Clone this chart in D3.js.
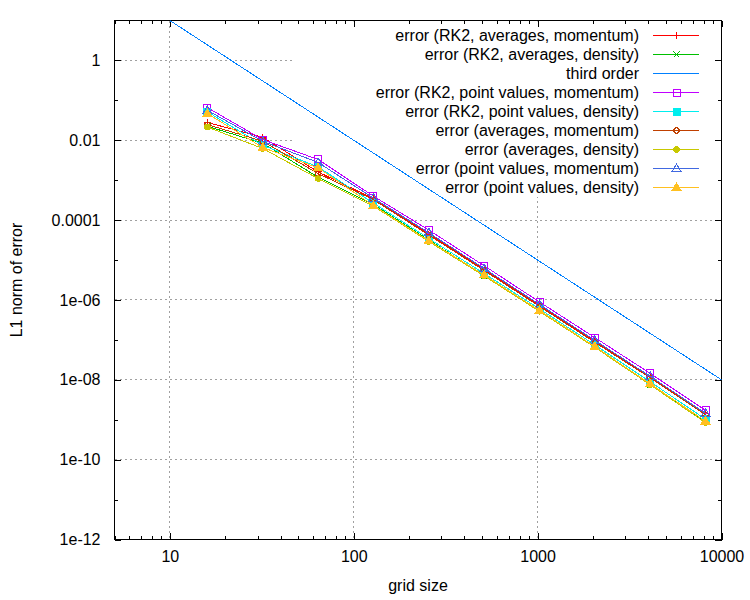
<!DOCTYPE html>
<html>
<head>
<meta charset="utf-8">
<script src="https://cdn.jsdelivr.net/npm/d3@7"></script>
<style>
  body { margin: 0; background: #fff; }
  text { font-family: "Liberation Sans", Arial, sans-serif; font-size: 16px; fill: #000; }
</style>
</head>
<body>
<div id="content"></div>
<script>
// grid sizes used in every run
var gridSizes = [16, 32, 64, 128, 256, 512, 1024, 2048, 4096, 8192];

// L1 errors
var errRK2AvgMom  = [0.0278, 0.0119, 0.00161, 3.45e-4, 4.47e-5, 5.79e-6, 7.29e-7, 9.18e-8, 1.19e-8, 1.41e-9];
var errRK2AvgDens = [0.0224, 0.00842, 0.00119, 2.44e-4, 3.17e-5, 4.1e-6, 5.31e-7, 6.69e-8, 7.73e-9, 8.67e-10];
var errRK2PvMom   = [0.0657, 0.0104, 0.0033, 3.98e-4, 5.63e-5, 7.2e-6, 8.9e-7, 1.14e-7, 1.45e-8, 1.71e-9];
var errRK2PvDens  = [0.0516, 0.0075, 0.00215, 2.66e-4, 3.45e-5, 4.6e-6, 5.96e-7, 7.5e-8, 8.91e-9, 1.03e-9];
var errAvgMom     = [0.0247, 0.00944, 0.00147, 3.25e-4, 4.22e-5, 5.47e-6, 6.88e-7, 8.67e-8, 1.12e-8, 1.34e-9];
var errAvgDens    = [0.0215, 0.0062, 0.0011, 2.24e-4, 2.9e-5, 3.99e-6, 5.16e-7, 6.5e-8, 7.5e-9, 8.42e-10];
var errPvMom      = [0.0563, 0.00944, 0.00278, 3.55e-4, 4.82e-5, 6.14e-6, 7.73e-7, 9.72e-8, 1.22e-8, 1.45e-9];
var errPvDens     = [0.0465, 0.00657, 0.00204, 2.31e-4, 3.04e-5, 4.22e-6, 5.47e-7, 6.8e-8, 7.95e-9, 9.18e-10];

// reference slope line
var thirdOrderN   = [10, 10000];
var thirdOrderErr = [10, 1e-8];

var seriesLabels = [
  "error (RK2, averages, momentum)",
  "error (RK2, averages, density)",
  "third order",
  "error (RK2, point values, momentum)",
  "error (RK2, point values, density)",
  "error (averages, momentum)",
  "error (averages, density)",
  "error (point values, momentum)",
  "error (point values, density)"
];

var xTickValues = [10, 100, 1000, 10000];
var xTickLabels = ["10", "100", "1000", "10000"];
var yTickValues = [1e-12, 1e-10, 1e-8, 1e-6, 1e-4, 1e-2, 1];
var yTickLabels = ["1e-12", "1e-10", "1e-08", "1e-06", "0.0001", "0.01", "1"];

var colors  = ["#ff0000", "#00c000", "#0080ff", "#c000ff", "#00eeee", "#c04000", "#c8c800", "#4169e1", "#ffc020"];
var markers = ["plus", "cross", null, "square", "squareFilled", "circle", "circleFilled", "triangle", "triangleFilled"];

var seriesValues = [errRK2AvgMom, errRK2AvgDens, null, errRK2PvMom, errRK2PvDens, errAvgMom, errAvgDens, errPvMom, errPvDens];

var width = 750, height = 600;
var pLeft = 114.5, pRight = 721.5, pTop = 20.5, pBottom = 539.5;

var svg = d3.select("#content")
  .append("svg")
    .attr("width", width)
    .attr("height", height);

var x = d3.scaleLog().domain([5, 10000]).range([pLeft, pRight]);
var y = d3.scaleLog().domain([1e-12, 10]).range([pBottom, pTop]);

// minor tick positions
var xMinor = [];
[1, 10, 100, 1000].forEach(function(d){
  for (var k = 2; k <= 9; k++) { if (d*k >= 5 && d*k < 10000) xMinor.push(d*k); }
});
var yMinor = [1e-11, 1e-9, 1e-7, 1e-5, 1e-3, 0.1];

// grid
var grid = svg.append("g").attr("class", "grid").attr("shape-rendering", "crispEdges");
xTickValues.filter(function(d){ return d < 10000; }).forEach(function(d){
  grid.append("line")
    .attr("x1", x(d)).attr("x2", x(d))
    .attr("y1", pTop).attr("y2", pBottom)
    .attr("stroke", "#a0a0a0").attr("stroke-dasharray", "2,3");
});
yTickValues.filter(function(d){ return d > 1e-12; }).forEach(function(d){
  grid.append("line")
    .attr("x1", pLeft).attr("x2", pRight)
    .attr("y1", y(d)).attr("y2", y(d))
    .attr("stroke", "#a0a0a0").attr("stroke-dasharray", "2,3");
});

// opaque key background covers the grid
svg.append("rect")
  .attr("x", 292).attr("y", pTop + 1)
  .attr("width", pRight - 292 - 1).attr("height", 196 - pTop)
  .attr("fill", "#fff");

// axes (ticks inward, mirrored on top/right)
function addAxis(axis, tr) {
  var g = svg.append("g").attr("transform", tr).call(axis);
  g.select(".domain").remove();
  g.selectAll(".tick line").attr("stroke", "#000").attr("shape-rendering", "crispEdges");
  return g;
}
addAxis(d3.axisBottom(x).tickValues(xTickValues).tickSize(-6.5).tickPadding(11)
  .tickFormat(function(d, i){ return xTickLabels[i]; }), "translate(0," + pBottom + ")");
addAxis(d3.axisBottom(x).tickValues(xMinor).tickSize(-3.5).tickFormat(""), "translate(0," + pBottom + ")");
addAxis(d3.axisTop(x).tickValues(xTickValues).tickSize(-6.5).tickFormat(""), "translate(0," + pTop + ")");
addAxis(d3.axisTop(x).tickValues(xMinor).tickSize(-3.5).tickFormat(""), "translate(0," + pTop + ")");
addAxis(d3.axisLeft(y).tickValues(yTickValues).tickSize(-6.5).tickPadding(14)
  .tickFormat(function(d, i){ return yTickLabels[i]; }), "translate(" + pLeft + ",0)");
addAxis(d3.axisLeft(y).tickValues(yMinor).tickSize(-3.5).tickFormat(""), "translate(" + pLeft + ",0)");
addAxis(d3.axisRight(y).tickValues(yTickValues).tickSize(-6.5).tickFormat(""), "translate(" + pRight + ",0)");
addAxis(d3.axisRight(y).tickValues(yMinor).tickSize(-3.5).tickFormat(""), "translate(" + pRight + ",0)");
svg.selectAll(".tick text").style("font-family", "Liberation Sans, Arial, sans-serif").style("font-size", "16px").attr("fill", "#000");

// border
svg.append("rect")
  .attr("x", pLeft).attr("y", pTop)
  .attr("width", pRight - pLeft).attr("height", pBottom - pTop)
  .attr("fill", "none").attr("stroke", "#000")
  .attr("shape-rendering", "crispEdges");

// axis titles
svg.append("text")
  .attr("x", 418).attr("y", 591)
  .attr("text-anchor", "middle")
  .text("grid size");
svg.append("text")
  .attr("transform", "translate(22,280) rotate(-90)")
  .attr("text-anchor", "middle")
  .text("L1 norm of error");

svg.append("clipPath").attr("id", "plotClip")
  .append("rect").attr("x", pLeft).attr("y", pTop).attr("width", pRight - pLeft).attr("height", pBottom - pTop);

function drawMarker(g, type, color, cx, cy) {
  var s = 3.5;
  if (type == "plus") {
    g.append("path").attr("d", "M" + (cx-s) + "," + cy + "H" + (cx+s) + "M" + cx + "," + (cy-s) + "V" + (cy+s))
      .attr("stroke", color).attr("fill", "none");
  } else if (type == "cross") {
    g.append("path").attr("d", "M" + (cx-3) + "," + (cy-3) + "L" + (cx+3) + "," + (cy+3) + "M" + (cx-3) + "," + (cy+3) + "L" + (cx+3) + "," + (cy-3))
      .attr("stroke", color).attr("fill", "none");
  } else if (type == "square" || type == "squareFilled") {
    g.append("rect").attr("x", cx-s).attr("y", cy-s).attr("width", 2*s).attr("height", 2*s)
      .attr("stroke", color).attr("fill", type == "square" ? "none" : color);
  } else if (type == "circle" || type == "circleFilled") {
    g.append("circle").attr("cx", cx).attr("cy", cy).attr("r", 2.7)
      .attr("stroke", color).attr("fill", type == "circle" ? "none" : color);
  } else if (type == "triangle" || type == "triangleFilled") {
    g.append("path").attr("d", "M" + cx + "," + (cy-4.5) + "L" + (cx+4.5) + "," + (cy+3) + "L" + (cx-4.5) + "," + (cy+3) + "Z")
      .attr("stroke", color).attr("fill", type == "triangle" ? "none" : color);
  }
}

var line = d3.line()
  .x(function(d){ return x(d[0]); })
  .y(function(d){ return y(d[1]); });

// aliased drawing like the original png terminal
var plot = svg.append("g").attr("clip-path", "url(#plotClip)").attr("shape-rendering", "crispEdges");
var legend = svg.append("g").attr("shape-rendering", "crispEdges");

for (var i = 0; i < seriesLabels.length; i++) {
  var pts;
  if (seriesValues[i] == null) {
    pts = thirdOrderN.map(function(n, j){ return [n, thirdOrderErr[j]]; });
  } else {
    var vals = seriesValues[i];
    pts = gridSizes.map(function(n, j){ return [n, vals[j]]; });
  }
  var g = plot.append("g");
  g.append("path")
    .datum(pts)
    .attr("d", line)
    .attr("fill", "none")
    .attr("stroke", colors[i])
    .attr("stroke-width", 1);
  if (markers[i]) {
    pts.forEach(function(p){ drawMarker(g, markers[i], colors[i], x(p[0]), y(p[1])); });
  }

  // key entry
  var ly = 35.5 + i * 19;
  legend.append("text")
    .attr("x", 639).attr("y", ly)
    .attr("dy", "0.35em")
    .attr("text-anchor", "end")
    .text(seriesLabels[i]);
  legend.append("line")
    .attr("x1", 653).attr("x2", 699)
    .attr("y1", ly).attr("y2", ly)
    .attr("stroke", colors[i]);
  if (markers[i]) drawMarker(legend, markers[i], colors[i], 676.5, ly);
}
</script>
</body>
</html>
